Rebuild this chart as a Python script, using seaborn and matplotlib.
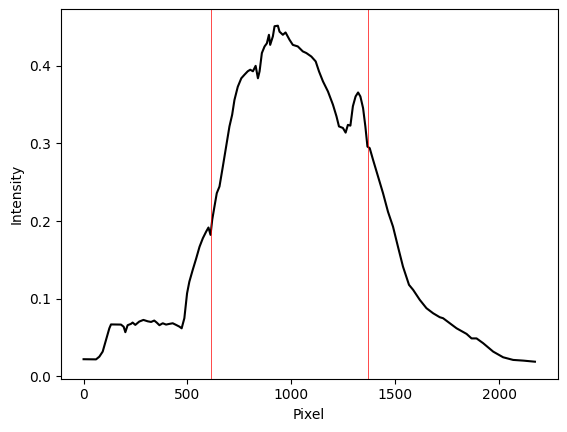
import matplotlib
matplotlib.use("Agg")
import matplotlib.pyplot as plt
import seaborn as sns
import pandas as pd

# Pixel positions and intensity values
pixel = [0, 60, 76, 92, 108, 124, 132, 180, 193, 201, 212, 228, 236, 249, 268, 288,
         309, 325, 340, 352, 365, 381, 397, 413, 429, 445, 461, 472, 485, 498, 509,
         525, 542, 558, 574, 590, 601, 611, 619, 630, 641, 654, 670, 686, 702, 715,
         726, 742, 759, 774, 790, 802, 815, 828, 839, 847, 858, 871, 882, 892, 898,
         911, 919, 935, 943, 959, 972, 991, 1007, 1031, 1055, 1072, 1096, 1117, 1133,
         1152, 1176, 1200, 1217, 1229, 1248, 1261, 1272, 1284, 1296, 1309, 1321, 1332,
         1345, 1356, 1366, 1377, 1393, 1417, 1441, 1465, 1489, 1513, 1537, 1566, 1586,
         1618, 1650, 1682, 1714, 1730, 1795, 1843, 1867, 1891, 1923, 1971, 2019, 2067,
         2116, 2172]
intensity = [0.0222, 0.022, 0.0255, 0.032, 0.047, 0.062, 0.067, 0.0668, 0.064, 0.057,
             0.066, 0.0677, 0.0694, 0.0664, 0.0707, 0.0728, 0.071, 0.0702, 0.072,
             0.0694, 0.066, 0.0685, 0.0668, 0.0677, 0.0685, 0.0664, 0.0642, 0.062,
             0.075, 0.107, 0.122, 0.137, 0.152, 0.167, 0.178, 0.1866, 0.1918, 0.1823,
             0.2017, 0.219, 0.236, 0.2446, 0.270, 0.296, 0.322, 0.337, 0.356, 0.373,
             0.384, 0.3885, 0.393, 0.395, 0.393, 0.400, 0.384, 0.393, 0.4165, 0.425,
             0.429, 0.440, 0.427, 0.438, 0.451, 0.4517, 0.444, 0.440, 0.443, 0.4336,
             0.427, 0.425, 0.4186, 0.4165, 0.412, 0.4057, 0.3928, 0.380, 0.367, 0.350,
             0.335, 0.322, 0.320, 0.314, 0.324, 0.323, 0.348, 0.3606, 0.3657, 0.3606,
             0.3456, 0.322, 0.296, 0.294, 0.279, 0.2575, 0.236, 0.212, 0.193, 0.167,
             0.1415, 0.118, 0.1115, 0.0986, 0.0879, 0.0814, 0.0763, 0.075, 0.062,
             0.0548, 0.049, 0.049, 0.0428, 0.032, 0.0247, 0.0213, 0.0204, 0.019]
marker_pixels = [614, 1371]

df = pd.DataFrame({"Pixel": pixel, "Intensity": intensity})

fig = plt.figure(figsize=(5.67, 4.32), dpi=100)
ax = fig.add_axes([61 / 567, (432 - 378.5) / 432, 496.5 / 567, 369.6 / 432])
sns.lineplot(data=df, x="Pixel", y="Intensity", color="black", linewidth=1.5,
             ax=ax, estimator=None, sort=False)
for mp in marker_pixels:
    ax.axvline(mp, color="red", linewidth=0.5)
ax.set_xlabel("Pixel")
ax.set_ylabel("Intensity")
fig.savefig("out.png", dpi=100)
